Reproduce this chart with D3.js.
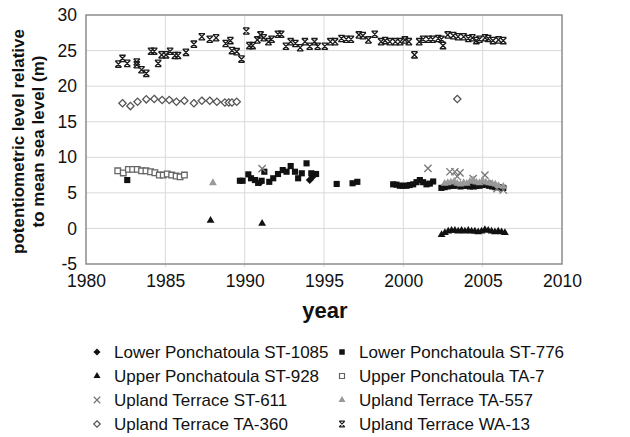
<!DOCTYPE html>
<html>
<head>
<meta charset="utf-8">
<script src="https://cdn.jsdelivr.net/npm/d3@7"></script>
<style>
  body { margin: 0; background: #fff; }
  svg { display: block; font-family: "Liberation Sans", Arial, sans-serif; }
  .grid line { stroke: #d9d9d9; stroke-width: 1; }
  .axis path { display: none; }
  .axis line { stroke: #999; }
  .axis text { font-size: 17.5px; fill: #111; }
  .legend text { font-size: 17px; fill: #111; }
</style>
</head>
<body>
<div id="chart"></div>
<script>
// year / value pairs
const st1085Years = [1991.0, 1994.1, 1994.3, 2003.3, 2004.6, 2005.5];
const st1085Values = [6.5, 6.8, 7.3, 6.1, 6.0, 6.2];

const st776Years = [1982.6, 1989.7, 1989.87, 1990.23, 1990.4, 1990.65, 1990.85, 1991.07, 1991.24, 1991.55, 1991.8,
  1992.1, 1992.4, 1992.64, 1992.9, 1993.17, 1993.37, 1993.6, 1993.9, 1994.2, 1994.5, 1995.8, 1996.8, 1997.1,
  1999.36, 1999.57, 1999.78, 1999.99, 2000.2, 2000.4, 2000.62, 2000.83, 2001.04, 2001.25, 2001.46, 2001.67, 2001.88,
  2002.4, 2002.6, 2002.8, 2003.0, 2003.2, 2003.4, 2003.6, 2003.8, 2004.0, 2004.2, 2004.4, 2004.6, 2004.8, 2005.0,
  2005.2, 2005.4, 2005.6, 2005.8, 2006.0, 2006.3];
const st776Values = [6.8, 6.7, 6.7, 7.6, 7.05, 6.8, 6.4, 6.7, 7.97, 6.55, 7.05,
  7.65, 8.2, 7.97, 8.77, 7.97, 7.05, 7.75, 9.15, 7.75, 7.65, 6.25, 6.35, 6.55,
  6.2, 6.15, 6.0, 6.0, 6.0, 6.1, 6.2, 6.5, 6.8, 6.5, 6.2, 6.3, 6.6,
  5.7, 5.8, 5.9, 6.0, 6.0, 6.1, 5.9, 6.0, 6.0, 5.9, 5.9, 6.0, 6.0, 6.1,
  6.2, 6.0, 5.9, 5.8, 5.8, 5.7];

const st928Years = [1987.85, 1991.1, 2002.41, 2002.62, 2002.83, 2003.04, 2003.25, 2003.46, 2003.67, 2003.88, 2004.09,
  2004.3, 2004.51, 2004.72, 2004.93, 2005.14, 2005.35, 2005.56, 2005.77, 2005.98, 2006.19, 2006.4];
const st928Values = [1.1, 0.7, -0.9, -0.6, -0.4, -0.3, -0.3, -0.4, -0.3, -0.4, -0.3,
  -0.4, -0.4, -0.5, -0.4, -0.2, -0.3, -0.4, -0.5, -0.4, -0.5, -0.6];

const ta7Years = [1982.0, 1982.35, 1982.67, 1982.94, 1983.23, 1983.5, 1983.78, 1984.07, 1984.34, 1984.62, 1984.87,
  1985.12, 1985.4, 1985.68, 1985.93, 1986.2];
const ta7Values = [8.1, 7.8, 8.3, 8.3, 8.3, 8.1, 8.1, 7.97, 7.83, 7.5, 7.5,
  7.65, 7.5, 7.36, 7.26, 7.5];

const st611Years = [1991.1, 2001.55, 2002.94, 2003.25, 2003.57, 2003.4, 2004.4, 2005.14, 2005.9, 2006.3];
const st611Values = [8.4, 8.45, 7.97, 7.97, 7.8, 7.3, 7.0, 7.5, 5.6, 5.4];

const ta557Years = [1988.0, 2002.6, 2002.8, 2003.0, 2003.2, 2003.4, 2003.6, 2003.8, 2004.0, 2004.2, 2004.4,
  2004.6, 2004.8, 2005.0, 2005.2, 2005.4, 2005.6, 2005.8, 2006.0, 2006.3];
const ta557Values = [6.4, 6.3, 6.4, 6.5, 6.6, 6.3, 6.2, 6.4, 6.3, 6.6, 6.8,
  6.5, 6.4, 6.7, 6.5, 6.4, 6.3, 6.2, 6.0, 5.9];

const ta360Years = [1982.3, 1982.8, 1983.25, 1983.8, 1984.3, 1984.8, 1985.25, 1985.7, 1986.2, 1986.8, 1987.3,
  1987.8, 1988.25, 1988.75, 1989.0, 1989.2, 1989.5, 2003.4];
const ta360Values = [17.6, 17.2, 17.8, 18.15, 18.2, 18.05, 18.05, 17.8, 17.95, 17.6, 17.95,
  17.95, 17.8, 17.7, 17.7, 17.7, 17.8, 18.2];

const wa13Years = [1982.04, 1982.3, 1982.6, 1983.2, 1983.2, 1983.5, 1983.8, 1984.1, 1984.3, 1984.55, 1984.77,
  1985.04, 1985.3, 1985.6, 1985.8, 1986.3, 1986.8, 1987.3, 1987.8, 1988.2, 1988.8, 1989.1, 1989.2, 1989.5,
  1989.8, 1990.1, 1990.3, 1990.5, 1990.8, 1991.0, 1991.2, 1991.5, 1991.7, 1992.1, 1992.3, 1992.6, 1992.9,
  1993.2, 1993.5, 1993.8, 1994.1, 1994.4, 1994.6, 1995.05, 1995.4, 1995.7, 1996.1, 1996.4, 1996.7, 1997.2,
  1997.45, 1997.8, 1998.2, 1998.6, 1998.85, 1999.15, 1999.5, 1999.8, 2000.1, 2000.35, 2000.7, 2001.0, 2001.25,
  2001.6, 2001.85, 2002.2, 2002.4, 2002.5, 2002.8, 2003.15, 2003.45, 2003.8, 2004.1, 2004.35, 2004.6, 2004.8,
  2005.15, 2005.35, 2005.65, 2006.0, 2006.3];
const wa13Values = [23.1, 23.9, 23.2, 23.4, 23.0, 22.3, 21.8, 24.9, 24.9, 23.2, 24.4,
  24.4, 24.9, 24.3, 24.3, 24.75, 25.9, 26.95, 26.6, 26.8, 26.0, 26.4, 25.0, 24.85,
  23.8, 27.75, 25.7, 25.7, 26.5, 27.2, 26.8, 26.25, 26.6, 27.3, 27.3, 25.6, 26.25,
  26.0, 25.4, 26.25, 25.6, 26.25, 25.6, 25.6, 26.25, 26.25, 26.7, 26.6, 26.6, 27.2,
  27.1, 26.5, 27.3, 26.25, 26.4, 26.25, 26.25, 26.25, 26.5, 26.25, 24.4, 26.25, 26.6,
  26.6, 26.6, 26.7, 26.6, 25.7, 27.2, 27.1, 26.95, 26.95, 26.7, 26.8, 26.4, 26.6,
  26.8, 26.7, 26.4, 26.5, 26.4];

const xTicks = [1980, 1985, 1990, 1995, 2000, 2005, 2010];
const yTicks = [-5, 0, 5, 10, 15, 20, 25, 30];

// bowtie "x" marker used for WA-13
const xBar = {
  draw(ctx, size) {
    const r = Math.sqrt(size) / 2;
    ctx.moveTo(-r, -r); ctx.lineTo(r, r);
    ctx.moveTo(r, -r); ctx.lineTo(-r, r);
    ctx.moveTo(-r, -r); ctx.lineTo(r, -r);
    ctx.moveTo(-r, r); ctx.lineTo(r, r);
  }
};

const series = [
  { name: 'Lower Ponchatoula ST-1085', years: st1085Years, values: st1085Values, type: d3.symbolDiamond2, size: 40, fill: '#111', stroke: 'none' },
  { name: 'Lower Ponchatoula ST-776', years: st776Years, values: st776Values, type: d3.symbolSquare2, size: 48, fill: '#111', stroke: 'none' },
  { name: 'Upper Ponchatoula ST-928', years: st928Years, values: st928Values, type: d3.symbolTriangle2, size: 44, fill: '#111', stroke: 'none' },
  { name: 'Upper Ponchatoula TA-7', years: ta7Years, values: ta7Values, type: d3.symbolSquare2, size: 40, fill: '#fff', stroke: '#666' },
  { name: 'Upland Terrace ST-611', years: st611Years, values: st611Values, type: d3.symbolX, size: 36, fill: 'none', stroke: '#777' },
  { name: 'Upland Terrace TA-557', years: ta557Years, values: ta557Values, type: d3.symbolTriangle2, size: 44, fill: '#999', stroke: 'none' },
  { name: 'Upland Terrace TA-360', years: ta360Years, values: ta360Values, type: d3.symbolDiamond2, size: 34, fill: '#fff', stroke: '#555' },
  { name: 'Upland Terrace WA-13', years: wa13Years, values: wa13Values, type: xBar, size: 40, fill: 'none', stroke: '#1a1a1a' }
];

const width = 630, height = 437;
const margin = { top: 15, right: 68, bottom: 173, left: 86 };
const innerW = width - margin.left - margin.right;
const innerH = height - margin.top - margin.bottom;

const svg = d3.select('#chart').append('svg')
  .attr('width', width)
  .attr('height', height);

const g = svg.append('g')
  .attr('transform', `translate(${margin.left},${margin.top})`);

const x = d3.scaleLinear().domain([1980, 2010]).range([0, innerW]);
const y = d3.scaleLinear().domain([-5, 30]).range([innerH, 0]);

// gridlines
g.append('g').attr('class', 'grid')
  .selectAll('line.v').data(xTicks.slice(1, -1)).join('line')
  .attr('x1', d => x(d)).attr('x2', d => x(d))
  .attr('y1', 0).attr('y2', innerH + 3);
g.append('g').attr('class', 'grid')
  .selectAll('line.h').data(yTicks.slice(1, -1)).join('line')
  .attr('x1', 0).attr('x2', innerW)
  .attr('y1', d => y(d)).attr('y2', d => y(d));

// plot frame
g.append('rect')
  .attr('width', innerW).attr('height', innerH)
  .attr('fill', 'none').attr('stroke', '#8c8c8c').attr('stroke-width', 1.5);

// axes
g.append('g').attr('class', 'axis')
  .attr('transform', `translate(0,${innerH})`)
  .call(d3.axisBottom(x).tickValues(xTicks).tickFormat(d3.format('d')).tickSize(0).tickPadding(11));

g.append('g').attr('class', 'axis')
  .call(d3.axisLeft(y).tickValues(yTicks).tickFormat(d => String(d)).tickSize(0).tickPadding(9));

// axis titles
g.append('text')
  .attr('x', innerW / 2 + 1)
  .attr('y', innerH + 54)
  .attr('text-anchor', 'middle')
  .style('font-size', '22px')
  .style('font-weight', 'bold')
  .attr('fill', '#111')
  .text('year');

const yTitle = svg.append('text')
  .attr('transform', `translate(0,${margin.top + innerH / 2 + 2}) rotate(-90)`)
  .attr('text-anchor', 'middle')
  .style('font-size', '17px')
  .style('font-weight', 'bold')
  .attr('fill', '#111');
yTitle.append('tspan').attr('x', 0).attr('y', 24).text('potentiometric level relative');
yTitle.append('tspan').attr('x', 0).attr('y', 44).text('to mean sea level (m)');

// points
series.forEach(s => {
  const pts = s.years.map((yr, i) => ({ year: yr, value: s.values[i] }));
  g.append('g')
    .selectAll('path').data(pts).join('path')
    .attr('transform', d => `translate(${x(d.year)},${y(d.value)})`)
    .attr('d', d3.symbol(s.type, s.size))
    .attr('fill', s.fill)
    .attr('stroke', s.stroke)
    .attr('stroke-width', 1.3);
});

// legend, two columns
const legend = svg.append('g').attr('class', 'legend');
const legendItems = legend.selectAll('g').data(series).join('g')
  .attr('transform', (d, i) => `translate(${i % 2 === 0 ? 97 : 342},${352 + Math.floor(i / 2) * 24})`);
legendItems.append('path')
  .attr('d', d => d3.symbol(d.type, d.size * 0.8)())
  .attr('fill', d => d.fill)
  .attr('stroke', d => d.stroke)
  .attr('stroke-width', 1.2);
legendItems.append('text')
  .attr('x', 17)
  .attr('dy', '0.35em')
  .text(d => d.name);
</script>
</body>
</html>
